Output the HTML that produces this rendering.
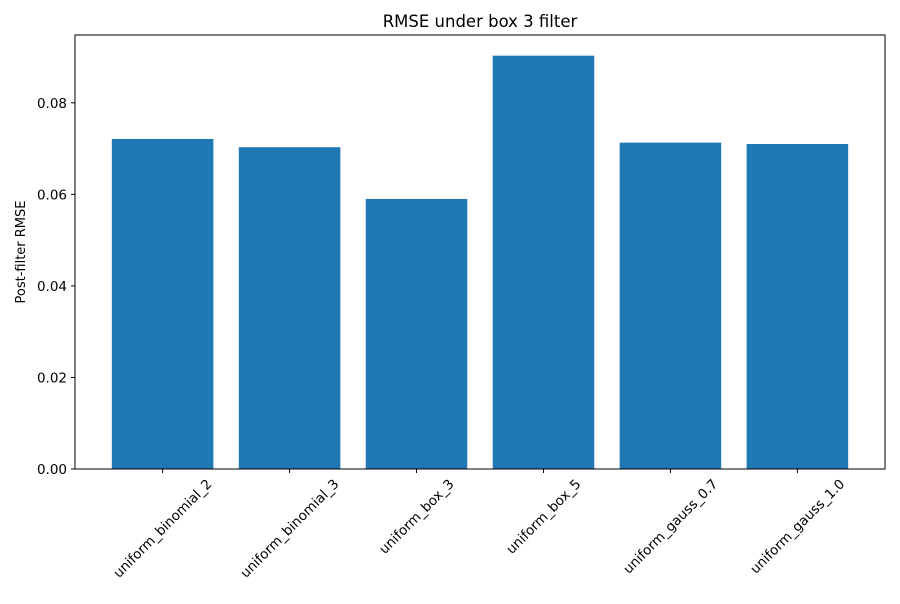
<!DOCTYPE html>
<html><head><meta charset="utf-8"><style>
body{margin:0;background:#fff;font-family:"DejaVu Sans","Liberation Sans",sans-serif}
</style></head><body>
<svg id="chart" width="900" height="600" xmlns="http://www.w3.org/2000/svg" font-family="DejaVu Sans, Liberation Sans, sans-serif">
<rect width="900" height="600" fill="#fff"/>
<text x="480" y="27" font-size="16.5" text-anchor="middle">RMSE under box 3 filter</text>
<text transform="translate(25,252) rotate(-90)" font-size="13" text-anchor="middle">Post-filter RMSE</text>
<g id="bars"></g><g id="axes"></g>
</svg>
<script>
const categories=["uniform_binomial_2","uniform_binomial_3","uniform_box_3","uniform_box_5","uniform_gauss_0.7","uniform_gauss_1.0"];
const values=[0.0721,0.0703,0.0590,0.0903,0.0713,0.0710];
const yTicks=[0,0.02,0.04,0.06,0.08];
const yTickLabels=["0.00","0.02","0.04","0.06","0.08"];
const L=75,R=885,T=35,B=469;
const ymax=Math.max(...values)*1.05;
const x0=-0.69,x1=categories.length-1+0.69;
function sx(i){return L+(i-x0)/(x1-x0)*(R-L);}
function sy(v){return B-v/ymax*(B-T);}
const NS="http://www.w3.org/2000/svg";
const bars=document.getElementById('bars'),axes=document.getElementById('axes');
function mk(t,a,p){const e=document.createElementNS(NS,t);for(const k in a)e.setAttribute(k,a[k]);p.appendChild(e);return e;}
const bw=0.8*(sx(1)-sx(0));
categories.forEach((c,i)=>{
 const r=mk('rect',{x:sx(i)-bw/2,y:sy(values[i]),width:bw,height:B-sy(values[i]),fill:'#1f77b4'},bars);
 
 
 mk('line',{x1:sx(i),x2:sx(i),y1:B,y2:B+4,stroke:'#000'},axes);
 const t=mk('text',{x:0,y:4.5,'font-size':13.5,'text-anchor':'middle'},axes);
 t.textContent=c;
 const len=t.getComputedTextLength();
 const half=(len+13)*0.7071/2;
 t.setAttribute('transform',`translate(${sx(i)},${B+8+half}) rotate(-45)`);
 
 
});
yTicks.forEach((v,j)=>{
 mk('line',{x1:L-4,x2:L,y1:sy(v),y2:sy(v),stroke:'#000'},axes);
 const t=mk('text',{x:L-8,y:sy(v)+5,'font-size':13.5,'text-anchor':'end'},axes);
 t.textContent=yTickLabels[j];
 
 
});
const f=mk('rect',{x:L,y:T,width:R-L,height:B-T,fill:'none',stroke:'#000','stroke-width':1},axes);


</script>
</body></html>
